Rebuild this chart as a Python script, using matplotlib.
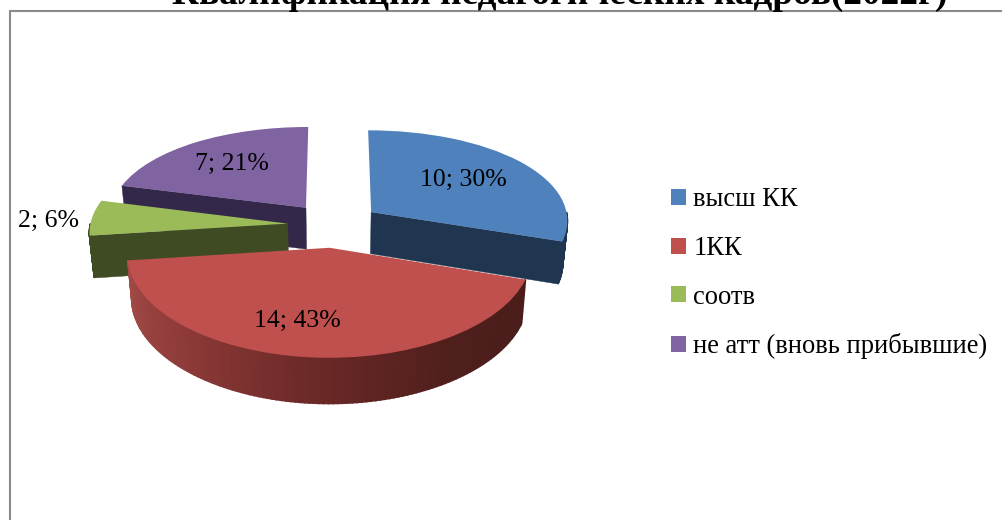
import numpy as np
import matplotlib
matplotlib.use("Agg")
import matplotlib.pyplot as plt
from matplotlib.colors import LinearSegmentedColormap
from matplotlib.transforms import Transform

# --- data ---
categories = ['высш КК', '1КК', 'соотв', 'не атт (вновь прибывшие)']
counts = [10, 14, 2, 7]
percents = [30, 43, 6, 21]
title = 'Квалификация педагогических кадров(2022г)'

# --- style ---
top_colors = ['#4f81bd', '#c0504d', '#9bbb59', '#8064a2']
wall_colors = [['#1f3550', '#1f3550'],
               ['#a54c49', '#8e3b39', '#6c2927', '#4f1f1c', '#4a1d1b'],
               ['#3f4b22', '#3f4b22'],
               ['#33284a', '#33284a']]
label_xy = [(463, 180), (297, 321), (49, 221), (232, 164)]
draw_order = [3, 0, 2, 1]
EXPLODE = 0.235

# pie plane -> pixels (Excel style perspective, fitted on the picture)
CX, CY = 334.0, 225.0


def project(u, v, z=0.0):
    x = CX + 197.5 * u * (1 - 0.08 * v)
    y = CY - 94.9 * v + 10.3 * v ** 2
    x = CX + (x - CX) * (1 - 0.02 * z)
    y = y + z * (42 - 3 * v)
    return x, y


class PieProjection(Transform):
    input_dims = 2
    output_dims = 2

    def transform_non_affine(self, values):
        values = np.asarray(values)
        x, y = project(values[:, 0], values[:, 1])
        return np.column_stack([x, y])


fig = plt.figure(figsize=(10.02, 5.2), dpi=100)
ax = fig.add_axes([0, 0, 1, 1])

wedges, _ = ax.pie(percents, explode=[EXPLODE] * 4, startangle=90, counterclock=False,
                   colors=top_colors, wedgeprops={'linewidth': 0})

# pie resets all of this
ax.set_aspect('auto')
ax.set_xlim(0, 1002)
ax.set_ylim(520, 0)
ax.axis('off')

# chart area border runs off the image
ax.plot([10, 10, 1010], [530, 11, 11], color='#8a8a8a', lw=1.5, zorder=0,
        solid_joinstyle='miter')


def arc_uv(w, th):
    th = np.radians(th)
    return w.center[0] + w.r * np.cos(th), w.center[1] + w.r * np.sin(th)


def draw_face(w, th, color, z):
    u, v = arc_uv(w, th)
    cu, cv = w.center
    xs = [project(cu, cv)[0], project(u, v)[0], project(u, v, 1)[0], project(cu, cv, 1)[0]]
    ys = [project(cu, cv)[1], project(u, v)[1], project(u, v, 1)[1], project(cu, cv, 1)[1]]
    ax.fill(xs, ys, color=color, lw=0.3, zorder=z)


for order, i in enumerate(draw_order):
    w = wedges[i]
    base = 2 + order * 2
    cmap = LinearSegmentedColormap.from_list('wall', wall_colors[i])

    # flat cut faces, only the ones turned to the viewer
    if np.sin(np.radians(w.theta1 - 90)) < -1e-6:
        draw_face(w, w.theta1, wall_colors[i][0], base)
    if np.sin(np.radians(w.theta2 + 90)) < -1e-6:
        draw_face(w, w.theta2, wall_colors[i][0], base)

    # outer wall, strips so the red slice gets its gradient
    thetas = np.linspace(w.theta1, w.theta2, 121)
    for a, b in zip(thetas[:-1], thetas[1:]):
        if np.sin(np.radians((a + b) / 2)) >= 0:
            continue
        ua, va = arc_uv(w, a)
        ub, vb = arc_uv(w, b)
        p = [project(ua, va), project(ub, vb), project(ub, vb, 1), project(ua, va, 1)]
        t = (a - w.theta1) / (w.theta2 - w.theta1)
        ax.fill([q[0] for q in p], [q[1] for q in p], color=cmap(t), lw=1.2, zorder=base)

    w.set_transform(PieProjection() + ax.transData)
    w.set_zorder(base + 1)
    w.set_clip_on(False)

for n, p, (x, y) in zip(counts, percents, label_xy):
    ax.text(x, y, f'{n}; {p}%', ha='center', va='center', fontsize=18.5,
            family='Liberation Serif', color='black', zorder=20)

ax.text(560, 4, title, ha='center', va='baseline', fontsize=26.8,
        family='Liberation Serif', weight='bold', color='black', zorder=20)

ax.legend(wedges, categories, loc='upper left', bbox_to_anchor=(0.6697, 0.6395), frameon=False,
          prop={'family': 'Liberation Serif', 'size': 19.1}, handlelength=0.57,
          handleheight=0.57, handletextpad=0.27, labelspacing=0.89, borderpad=0, borderaxespad=0)

fig.savefig('out.png', dpi=100)
